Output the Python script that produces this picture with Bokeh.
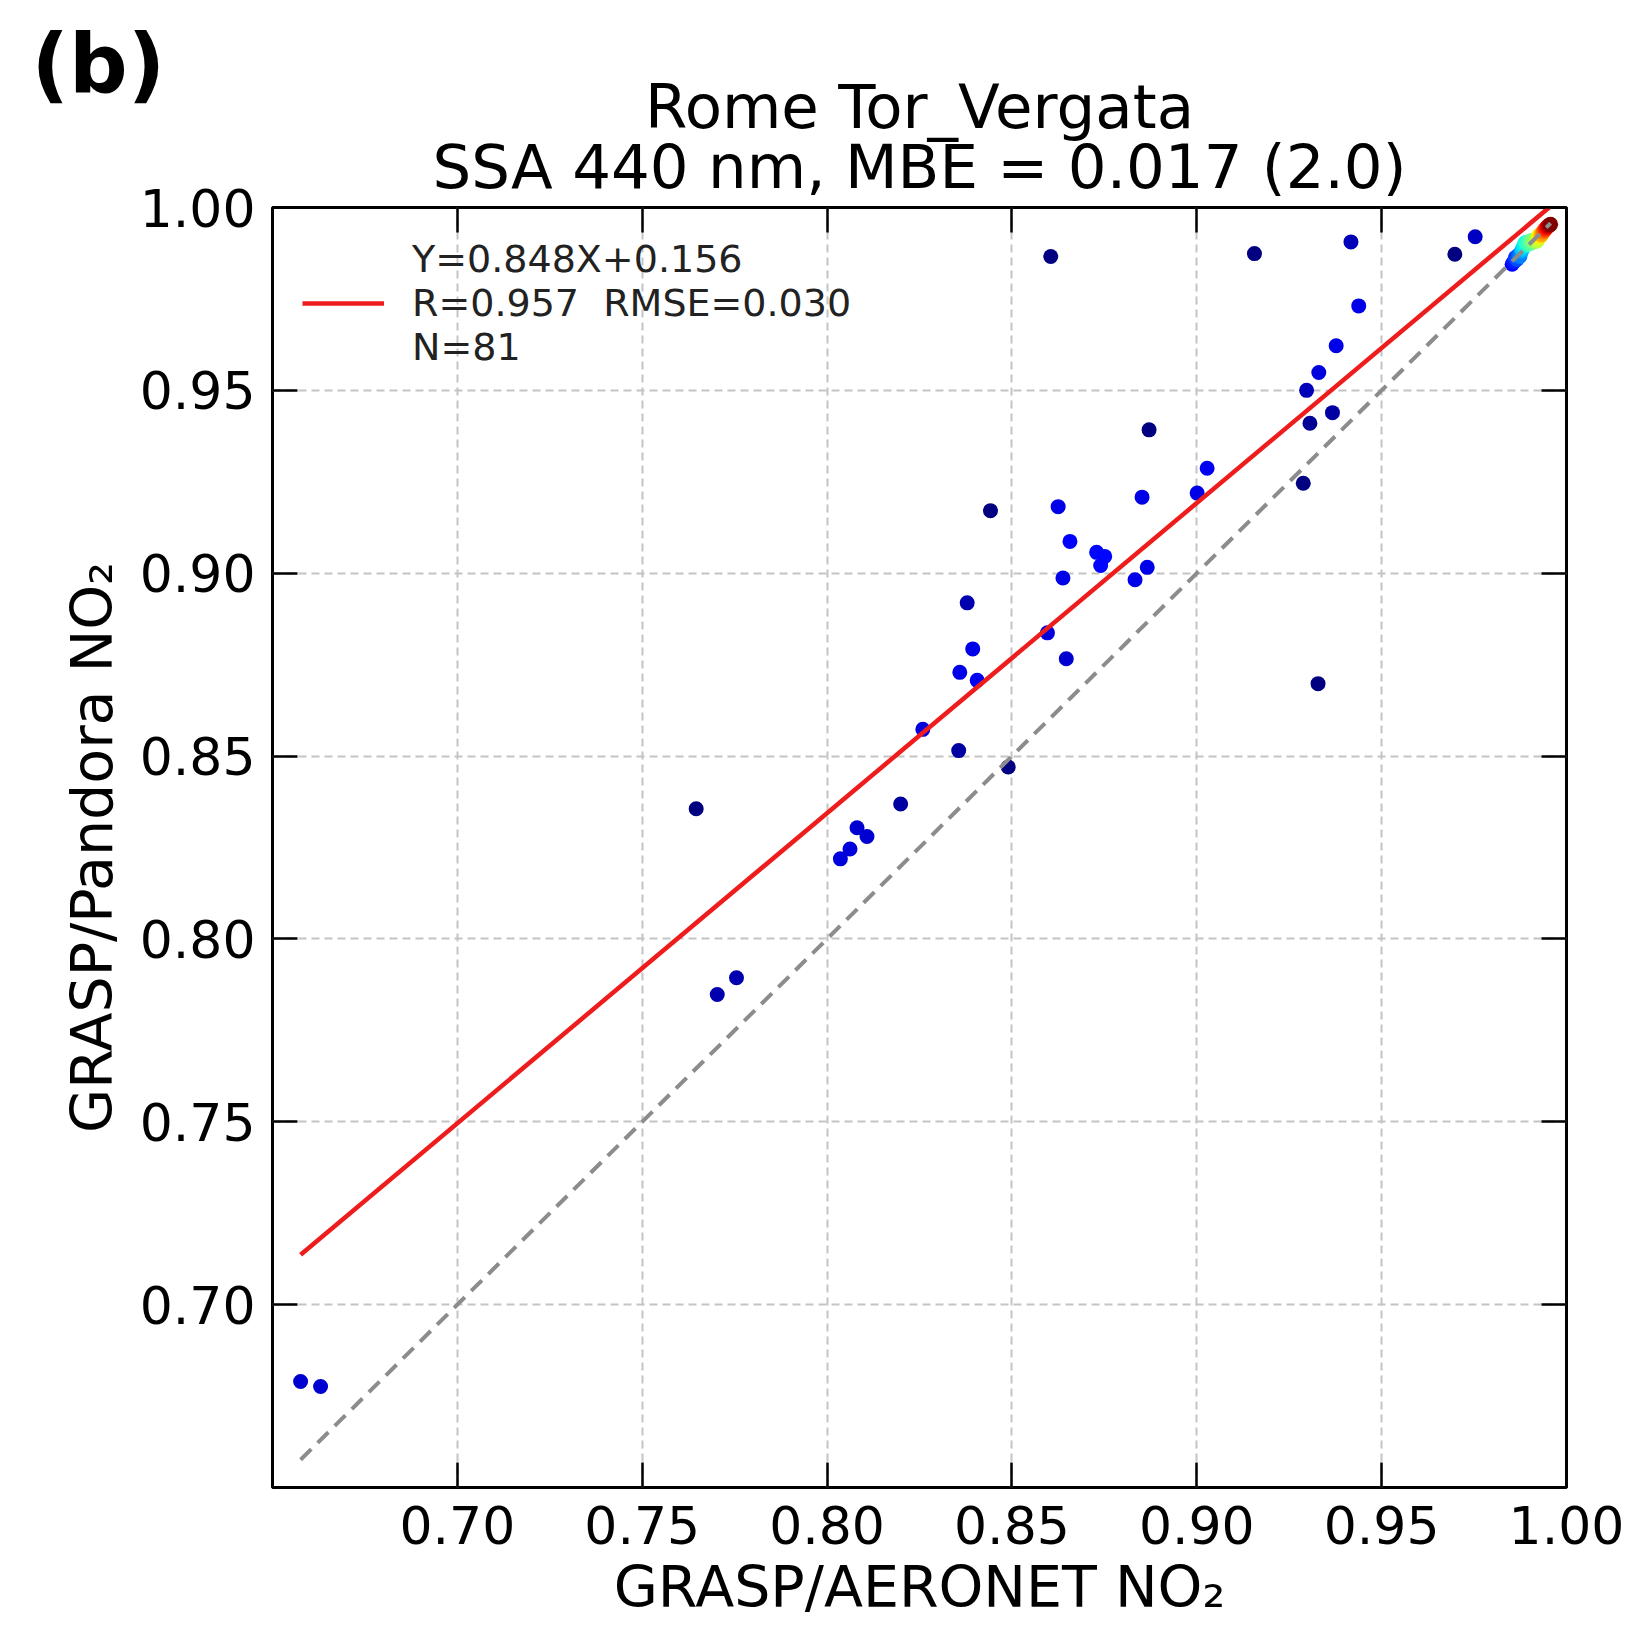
import numpy as np
from bokeh.plotting import figure
from bokeh.models import (ColumnDataSource, FixedTicker, LinearAxis, Title,
                          Legend, LegendItem, Range1d, CustomLabelingPolicy)
from bokeh.embed import file_html
from bokeh.resources import INLINE

# ---------------- data ----------------
aeronet_ssa = [
    0.6576, 0.6630, 0.7646, 0.7703, 0.7755, 0.8036, 0.8062, 0.8081, 0.8108, 0.8199,
    0.8259, 0.8356, 0.8359, 0.8379, 0.8394, 0.8406, 0.8442, 0.8490, 0.8596, 0.8605,
    0.8625, 0.8638, 0.8647, 0.8657, 0.8729, 0.8751, 0.8740, 0.8833, 0.8852, 0.8866,
    0.8871, 0.9001, 0.9028, 0.9156, 0.9288, 0.9297, 0.9306, 0.9330, 0.9328, 0.9367,
    0.9377, 0.9417, 0.9438, 0.9698, 0.9753,
    0.9853, 0.9858, 0.9862, 0.9866, 0.9870, 0.9874, 0.9878, 0.9880, 0.9884, 0.9889,
    0.9886, 0.9893, 0.9897, 0.9901, 0.9905, 0.9910, 0.9914, 0.9918, 0.9921, 0.9923,
    0.9925, 0.9928, 0.9930, 0.9932, 0.9935, 0.9937, 0.9939, 0.9941, 0.9943, 0.9945,
    0.9947, 0.9949, 0.9951, 0.9953, 0.9955, 0.9957,
]
pandora_ssa = [
    0.6790, 0.6776, 0.8356, 0.7848, 0.7894, 0.8219, 0.8246, 0.8304, 0.8280, 0.8369,
    0.8573, 0.8515, 0.8729, 0.8919, 0.8793, 0.8707, 0.9171, 0.8470, 0.8837, 0.9866,
    0.9182, 0.8987, 0.8766, 0.9087, 0.9057, 0.9046, 0.9021, 0.8982, 0.9208, 0.9016,
    0.9392, 0.9219, 0.9287, 0.9874, 0.9246, 0.9500, 0.9410, 0.9549, 0.8698, 0.9439,
    0.9622, 0.9906, 0.9731, 0.9872, 0.9920,
    0.9845, 0.9852, 0.9863, 0.9858, 0.9870, 0.9866, 0.9880, 0.9886, 0.9893, 0.9904,
    0.9900, 0.9898, 0.9906, 0.9902, 0.9910, 0.9905, 0.9912, 0.9908, 0.9909, 0.9916,
    0.9923, 0.9920, 0.9927, 0.9925, 0.9930, 0.9934, 0.9936, 0.9939, 0.9941, 0.9944,
    0.9946, 0.9948, 0.9950, 0.9951, 0.9953, 0.9954,
]
point_density = [
    0.07, 0.07, 0.00, 0.04, 0.04, 0.08, 0.08, 0.07, 0.07, 0.03,
    0.08, 0.03, 0.09, 0.04, 0.09, 0.10, 0.00, 0.00, 0.08, 0.00,
    0.09, 0.09, 0.07, 0.12, 0.13, 0.13, 0.13, 0.09, 0.09, 0.09,
    0.00, 0.09, 0.10, 0.00, 0.00, 0.05, 0.02, 0.08, 0.00, 0.03,
    0.09, 0.05, 0.09, 0.00, 0.06,
    0.12, 0.15, 0.18, 0.20, 0.22, 0.25, 0.28, 0.32, 0.35, 0.38,
    0.36, 0.40, 0.42, 0.45, 0.48, 0.50, 0.53, 0.55, 0.58, 0.60,
    0.63, 0.66, 0.69, 0.72, 0.75, 0.78, 0.80, 0.83, 0.86, 0.88,
    0.90, 0.92, 0.94, 0.96, 0.98, 1.00,
]

fit_slope = 0.848
fit_intercept = 0.156
fit_r = 0.957
fit_rmse = 0.030
n_points = 81

panel_tag = "(b)"
title_site = "Rome Tor_Vergata"
title_stats = "SSA 440 nm, MBE = 0.017 (2.0)"
x_label = "GRASP/AERONET NO\u2082"
y_label = "GRASP/Pandora NO\u2082"
tick_values = [0.70, 0.75, 0.80, 0.85, 0.90, 0.95, 1.00]
tick_labels = ["0.70", "0.75", "0.80", "0.85", "0.90", "0.95", "1.00"]


# ---------------- colours (jet colormap) ----------------
def jet(v):
    v = np.asarray(v, dtype=float)
    r = np.interp(v, [0, 0.35, 0.66, 0.89, 1], [0, 0, 1, 1, 0.5])
    g = np.interp(v, [0, 0.125, 0.375, 0.64, 0.91, 1], [0, 0, 1, 1, 0, 0])
    b = np.interp(v, [0, 0.11, 0.34, 0.65, 1], [0.5, 1, 1, 0, 0])
    return ["#%02x%02x%02x" % (int(round(R * 255)), int(round(G * 255)), int(round(B * 255)))
            for R, G, B in zip(r, g, b)]


order = np.argsort(np.asarray(point_density), kind="stable")
xs = np.asarray(aeronet_ssa)[order]
ys = np.asarray(pandora_ssa)[order]
ds = np.asarray(point_density)[order]
src = ColumnDataSource(dict(x=xs, y=ys, color=jet(ds)))

FONT = "DejaVu Sans"

p = figure(width=1634, height=1626,
           x_range=Range1d(0.65, 1.0), y_range=Range1d(0.65, 1.0),
           output_backend="svg", toolbar_location=None, title=None,
           min_border_left=272, min_border_right=68,
           min_border_top=207, min_border_bottom=139,
           x_axis_label=x_label, y_axis_label=y_label)
p.background_fill_color = "white"
p.border_fill_color = "white"
p.outline_line_color = "black"
p.outline_line_width = 3
p.outline_line_alpha = 1.0

overrides = {t: l for t, l in zip(tick_values, tick_labels)}
for ax in (p.xaxis[0], p.yaxis[0]):
    ax.ticker = FixedTicker(ticks=tick_values)
    ax.major_label_overrides = overrides
    ax.major_label_text_font = FONT
    ax.major_label_text_font_size = "52px"
    ax.major_label_text_color = "black"
    ax.axis_label_text_font = FONT
    ax.axis_label_text_font_size = "57px"
    ax.axis_label_text_font_style = "normal"
    ax.axis_label_text_color = "black"
    ax.axis_line_color = None
    ax.major_tick_in = 25
    ax.major_tick_out = 0
    ax.major_tick_line_width = 2.5
    ax.major_tick_line_color = "black"
    ax.minor_tick_line_color = None
p.xaxis[0].major_label_standoff = 18
p.xaxis[0].axis_label_standoff = 7
p.yaxis[0].major_label_standoff = 17
p.yaxis[0].axis_label_standoff = 12

no_labels = CustomLabelingPolicy(
    code="for (const i of Array.from(indices.ones())) { indices.set(i, false) } return indices")
for place in ("above", "right"):
    ax = LinearAxis(ticker=FixedTicker(ticks=tick_values),
                    major_label_policy=no_labels, major_label_standoff=0,
                    major_tick_in=25, major_tick_out=0, major_tick_line_width=2.5,
                    major_tick_line_color="black", minor_tick_line_color=None,
                    axis_line_color=None)
    p.add_layout(ax, place)

for g in (p.xgrid[0], p.ygrid[0]):
    g.grid_line_color = "#c4c4c4"
    g.grid_line_width = 2
    g.grid_line_dash = "8 5"

# scatter points (density coloured)
p.scatter("x", "y", source=src, size=15, fill_color="color", line_color=None)

# 1:1 line and fit line
x_lo, x_hi = min(aeronet_ssa), max(aeronet_ssa)
p.line([x_lo, x_hi], [x_lo, x_hi], line_color="#8c8c8c", line_width=4, line_dash="15 9")
fit_line = p.line([x_lo, x_hi],
                  [fit_slope * x_lo + fit_intercept, fit_slope * x_hi + fit_intercept],
                  line_color="#ee1c1c", line_width=4.5)

legend_label = (f"Y={fit_slope:.3f}X+{fit_intercept:.3f}\n"
                f"R={fit_r:.3f}  RMSE={fit_rmse:.3f}\nN={n_points}")
legend = Legend(items=[LegendItem(label=legend_label, renderers=[fit_line])],
                location="top_left", margin=0, padding=30,
                glyph_width=82, glyph_height=128, label_height=126,
                label_standoff=28, label_text_font=FONT, label_text_font_size="38px",
                label_text_line_height=1.0, label_text_color="#222222",
                border_line_alpha=0, background_fill_alpha=0)
p.add_layout(legend)

# titles (stacked outward from the frame)
t2 = Title(text=title_stats, align="center", text_font=FONT, text_font_size="61px",
           text_font_style="normal", text_color="black", standoff=-11)
t1 = Title(text=title_site, align="center", text_font=FONT, text_font_size="61px",
           text_font_style="normal", text_color="black", standoff=-14)
tb = Title(text=panel_tag, align="left", offset=-241, text_font=FONT, text_font_size="82px",
           text_font_style="bold", text_color="black", standoff=-70)
p.add_layout(t2, "above")
p.add_layout(t1, "above")
p.add_layout(tb, "above")

open("out.html", "w").write(file_html(p, INLINE))
